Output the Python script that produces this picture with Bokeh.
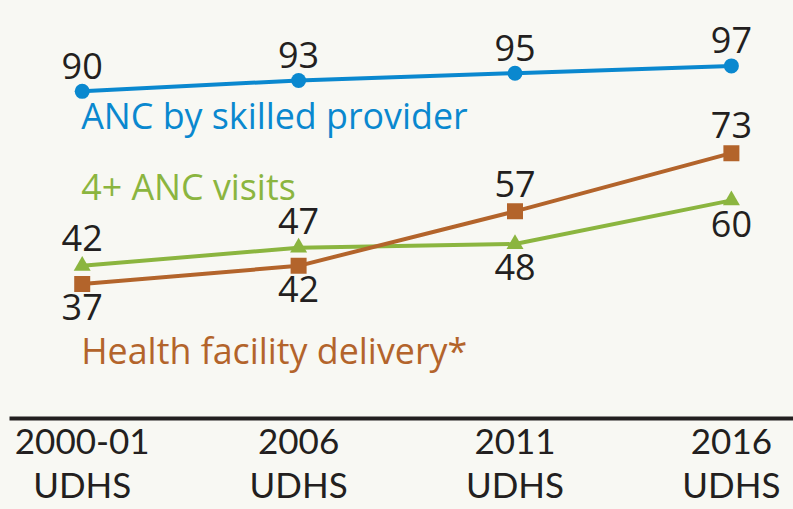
from bokeh.plotting import figure
from bokeh.models import Range1d, FixedTicker, ColumnDataSource
from bokeh.core.properties import value
from bokeh.embed import file_html
from bokeh.resources import INLINE

# ---- data ----
surveys = ["2000-01\nUDHS", "2006\nUDHS", "2011\nUDHS", "2016\nUDHS"]
anc_skilled = [90, 93, 95, 97]
anc_4plus = [42, 47, 48, 60]
facility_delivery = [37, 42, 57, 73]
series_names = ["ANC by skilled provider", "4+ ANC visits", "Health facility delivery*"]

# ---- styling ----
BG = "#f8f8f3"
DARK = "#231f20"
BLUE = "#0a88cf"
GREEN = "#8bb53f"
BROWN = "#b3642b"
FONT = "Open Sans"
SHIFT = -12  # text baseline correction

idx = list(range(len(surveys)))

p = figure(width=793, height=509, output_backend="svg", toolbar_location=None,
           x_range=Range1d(-0.336, 3.287), y_range=Range1d(0, 115.0),
           min_border_left=9, min_border_right=0, min_border_top=0, min_border_bottom=91,
           background_fill_color=BG, border_fill_color=BG, outline_line_color=None)
p.grid.visible = False
p.yaxis.visible = False

ax = p.xaxis[0]
ax.ticker = FixedTicker(ticks=idx)
ax.major_label_overrides = {i: s for i, s in zip(idx, surveys)}
ax.axis_line_color = DARK
ax.axis_line_width = 4
ax.major_tick_line_color = None
ax.minor_tick_line_color = None
ax.major_tick_out = 0
ax.major_tick_in = 0
ax.major_label_standoff = 0
ax.major_label_text_font = "Lato"
ax.major_label_text_font_size = "35px"
ax.major_label_text_color = DARK
ax.major_label_text_line_height = 1.05

def series(vals, color, marker, msize, offsets, name, name_offset):
    src = ColumnDataSource(dict(x=idx, y=vals, lab=[str(v) for v in vals],
                                yoff=[o + SHIFT for o in offsets]))
    p.line("x", "y", source=src, line_color=color, line_width=4)
    p.scatter("x", "y", source=src, marker=marker, size=msize, fill_color=color,
              line_color=color, line_width=0)
    p.text("x", "y", text="lab", source=src, y_offset="yoff", text_align="center",
           text_baseline="alphabetic", text_font=value(FONT), text_font_size="36px",
           text_color=DARK)
    p.text(x=[idx[0]], y=[vals[0]], text=[name], x_offset=-1, y_offset=name_offset + SHIFT,
           text_align="left", text_baseline="alphabetic", text_font=value(FONT),
           text_font_size="35.8px", text_color=color)

series(anc_skilled, BLUE, "circle", 15, [-13, -13, -13, -14], series_names[0], 35.5)
series(anc_4plus, GREEN, "triangle", 17, [-15.5, -14.5, 34.5, 36], series_names[1], -68)
series(facility_delivery, BROWN, "square", 16, [35, 35, -15.5, -16], series_names[2], 78)

html = file_html(p, INLINE)
html = html.replace("<head>", "<head><style>html,body{background:%s;}</style>" % BG, 1)
open("out.html", "w").write(html)
